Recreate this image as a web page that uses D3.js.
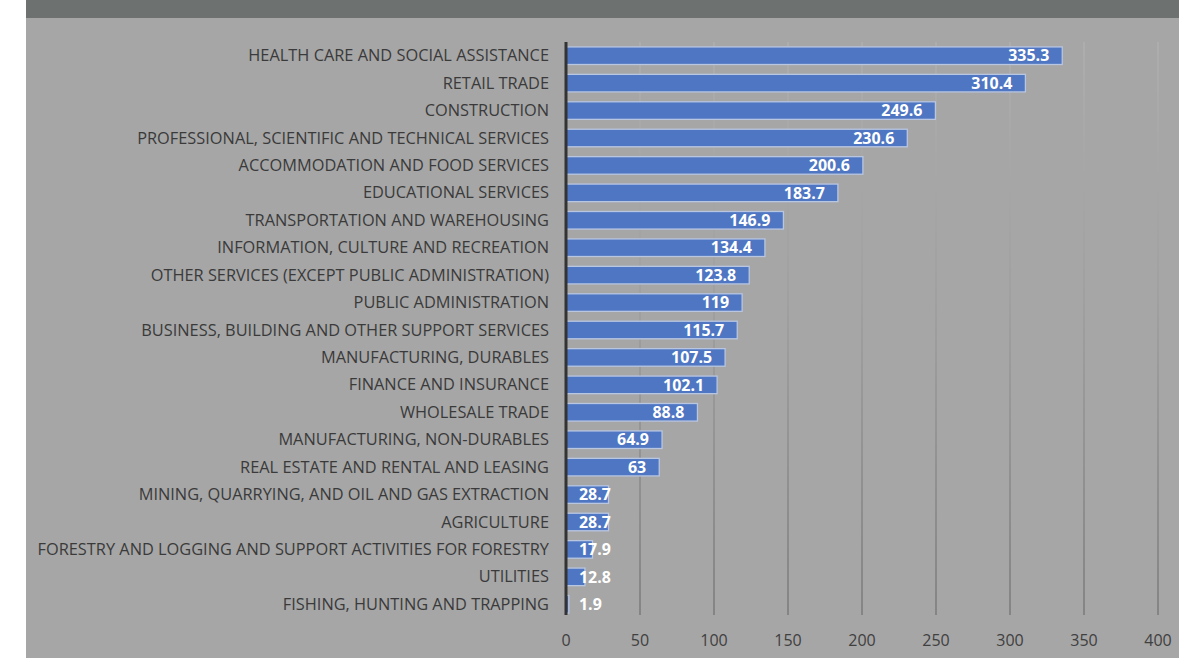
<!DOCTYPE html>
<html><head><meta charset="utf-8">
<script src="https://cdn.jsdelivr.net/npm/d3@7"></script>
<style>html,body{margin:0;padding:0;background:#fff;}svg{display:block;}</style>
</head><body>
<svg id="chart" width="1179" height="658"></svg>
<script>
const categories = [
  "HEALTH CARE AND SOCIAL ASSISTANCE","RETAIL TRADE","CONSTRUCTION",
  "PROFESSIONAL, SCIENTIFIC AND TECHNICAL SERVICES","ACCOMMODATION AND FOOD SERVICES",
  "EDUCATIONAL SERVICES","TRANSPORTATION AND WAREHOUSING","INFORMATION, CULTURE AND RECREATION",
  "OTHER SERVICES (EXCEPT PUBLIC ADMINISTRATION)","PUBLIC ADMINISTRATION",
  "BUSINESS, BUILDING AND OTHER SUPPORT SERVICES","MANUFACTURING, DURABLES",
  "FINANCE AND INSURANCE","WHOLESALE TRADE","MANUFACTURING, NON-DURABLES",
  "REAL ESTATE AND RENTAL AND LEASING","MINING, QUARRYING, AND OIL AND GAS EXTRACTION",
  "AGRICULTURE","FORESTRY AND LOGGING AND SUPPORT ACTIVITIES FOR FORESTRY",
  "UTILITIES","FISHING, HUNTING AND TRAPPING"
];
const values = [335.3,310.4,249.6,230.6,200.6,183.7,146.9,134.4,123.8,119,115.7,107.5,102.1,88.8,64.9,63,28.7,28.7,17.9,12.8,1.9];
const ticks = [0,50,100,150,200,250,300,350,400];

const svg = d3.select("#chart");
const W = 1179, H = 658;
svg.append("rect").attr("x",26).attr("y",0).attr("width",W-26).attr("height",H).attr("fill","#a6a6a6");
svg.append("rect").attr("x",26).attr("y",0).attr("width",W-26).attr("height",18).attr("fill","#6d7170");

const x = d3.scaleLinear().domain([0,400]).range([566,1158]);
const y = d3.scaleBand().domain(categories).range([42,618]).paddingInner(0.36).paddingOuter(0.18);

const defs = svg.append("defs");
const g = defs.append("linearGradient").attr("id","gridGrad")
  .attr("gradientUnits","userSpaceOnUse").attr("x1",0).attr("y1",42).attr("x2",0).attr("y2",615);
g.append("stop").attr("offset","0%").attr("stop-color","#b2b2b2");
g.append("stop").attr("offset","45%").attr("stop-color","#9c9c9c");
g.append("stop").attr("offset","100%").attr("stop-color","#6e6e6e");

// gridlines
svg.append("g").selectAll("line").data(ticks.slice(1)).join("line")
  .attr("x1",d=>x(d)).attr("x2",d=>x(d)).attr("y1",42).attr("y2",615)
  .attr("stroke","url(#gridGrad)").attr("stroke-width",1.2);

// tick labels
svg.append("g").selectAll("text").data(ticks).join("text")
  .attr("x",d=>x(d)).attr("y",646).attr("text-anchor","middle")
  .attr("font-family","'Open Sans', sans-serif").attr("font-size",16).attr("fill","#404040")
  .text(d=>d);

// bars
svg.append("g").selectAll("rect").data(values).join("rect")
  .attr("x",x(0)).attr("y",(d,i)=>y(categories[i]))
  .attr("width",d=>x(d)-x(0)).attr("height",y.bandwidth())
  .attr("fill","#4e76c2").attr("stroke","#b8c6e2").attr("stroke-width",1.3);

// axis line
svg.append("line").attr("x1",x(0)).attr("x2",x(0)).attr("y1",42).attr("y2",615)
  .attr("stroke","#333").attr("stroke-width",3);

// category labels
svg.append("g").selectAll("text").data(categories).join("text")
  .attr("x",549).attr("y",d=>y(d)+y.bandwidth()/2).attr("dy","0.36em")
  .attr("text-anchor","end")
  .attr("font-family","'Open Sans', sans-serif").attr("font-size",15.5).attr("fill","#3a3a3a")
  .text(d=>d)
  .each(function(){
    const w = this.getComputedTextLength();
    this.setAttribute("textLength", (w*1.055).toFixed(1));
    this.setAttribute("lengthAdjust","spacingAndGlyphs");
  });

// value labels
svg.append("g").selectAll("text").data(values).join("text")
  .attr("y",(d,i)=>y(categories[i])+y.bandwidth()/2).attr("dy","0.37em")
  .attr("font-family","'Open Sans', sans-serif").attr("font-weight","bold").attr("font-size",15.5)
  .attr("fill","#ffffff")
  .text(d=>d)
  .each(function(d){
    const w = this.getComputedTextLength()*1.03;
    this.setAttribute("textLength", w.toFixed(1));
    this.setAttribute("lengthAdjust","spacingAndGlyphs");
    const right = Math.max(x(d)-13, x(0)+13+w);
    this.setAttribute("x", right - w);
  });
</script>
</body></html>
